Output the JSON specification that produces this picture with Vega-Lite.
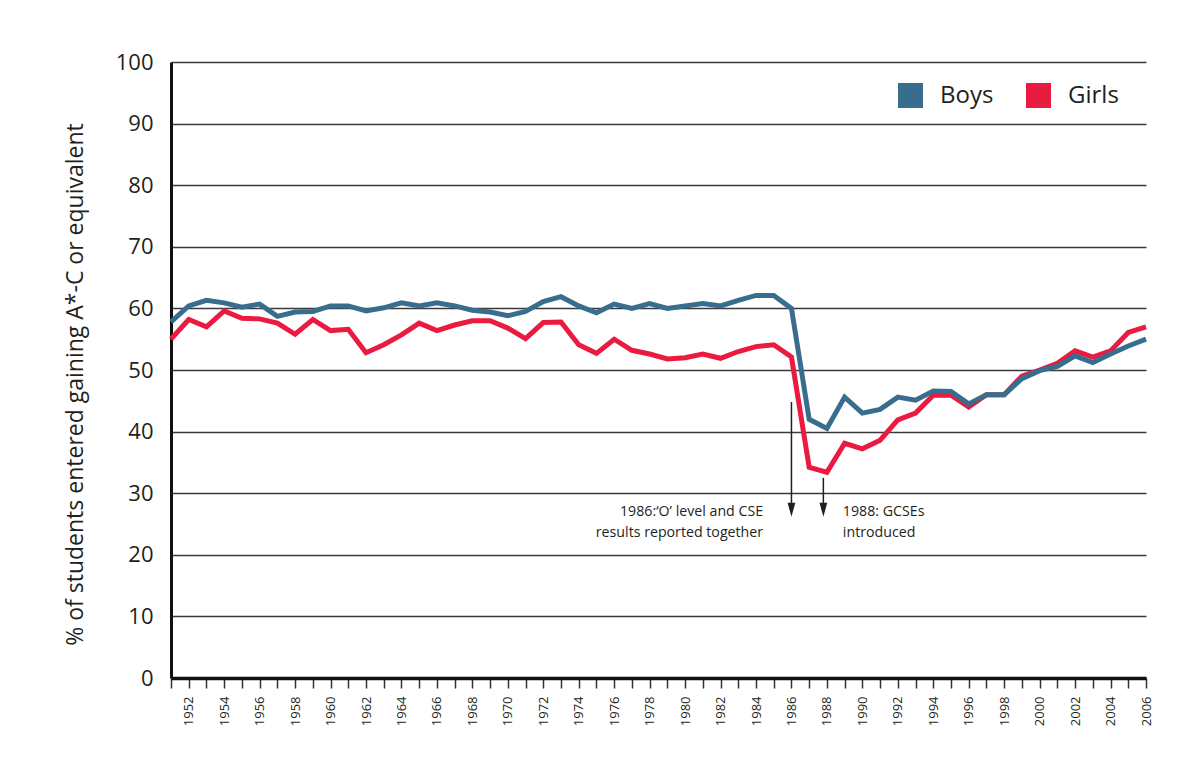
{
  "$schema": "https://vega.github.io/schema/vega-lite/v6.json",
  "width": 975,
  "height": 616,
  "autosize": {"type": "none"},
  "padding": {"left": 171, "top": 62, "right": 52, "bottom": 80},
  "background": "white",
  "config": {
    "font": "Open Sans",
    "view": {"stroke": null}
  },
  "datasets": {
    "series": [
      {"year": 1951, "gender": "Boys", "pct": 57.8}, {"year": 1952, "gender": "Boys", "pct": 60.4}, {"year": 1953, "gender": "Boys", "pct": 61.3}, {"year": 1954, "gender": "Boys", "pct": 60.9}, {"year": 1955, "gender": "Boys", "pct": 60.2}, {"year": 1956, "gender": "Boys", "pct": 60.7}, {"year": 1957, "gender": "Boys", "pct": 58.7}, {"year": 1958, "gender": "Boys", "pct": 59.4}, {"year": 1959, "gender": "Boys", "pct": 59.5}, {"year": 1960, "gender": "Boys", "pct": 60.4},
      {"year": 1961, "gender": "Boys", "pct": 60.4}, {"year": 1962, "gender": "Boys", "pct": 59.6}, {"year": 1963, "gender": "Boys", "pct": 60.1}, {"year": 1964, "gender": "Boys", "pct": 60.9}, {"year": 1965, "gender": "Boys", "pct": 60.4}, {"year": 1966, "gender": "Boys", "pct": 60.9}, {"year": 1967, "gender": "Boys", "pct": 60.4}, {"year": 1968, "gender": "Boys", "pct": 59.7}, {"year": 1969, "gender": "Boys", "pct": 59.4}, {"year": 1970, "gender": "Boys", "pct": 58.8},
      {"year": 1971, "gender": "Boys", "pct": 59.5}, {"year": 1972, "gender": "Boys", "pct": 61.1}, {"year": 1973, "gender": "Boys", "pct": 61.9}, {"year": 1974, "gender": "Boys", "pct": 60.4}, {"year": 1975, "gender": "Boys", "pct": 59.3}, {"year": 1976, "gender": "Boys", "pct": 60.7}, {"year": 1977, "gender": "Boys", "pct": 60.0}, {"year": 1978, "gender": "Boys", "pct": 60.8}, {"year": 1979, "gender": "Boys", "pct": 60.0}, {"year": 1980, "gender": "Boys", "pct": 60.4},
      {"year": 1981, "gender": "Boys", "pct": 60.8}, {"year": 1982, "gender": "Boys", "pct": 60.4}, {"year": 1983, "gender": "Boys", "pct": 61.3}, {"year": 1984, "gender": "Boys", "pct": 62.1}, {"year": 1985, "gender": "Boys", "pct": 62.1}, {"year": 1986, "gender": "Boys", "pct": 60.0}, {"year": 1987, "gender": "Boys", "pct": 42.0}, {"year": 1988, "gender": "Boys", "pct": 40.5}, {"year": 1989, "gender": "Boys", "pct": 45.6}, {"year": 1990, "gender": "Boys", "pct": 43.0},
      {"year": 1991, "gender": "Boys", "pct": 43.6}, {"year": 1992, "gender": "Boys", "pct": 45.6}, {"year": 1993, "gender": "Boys", "pct": 45.1}, {"year": 1994, "gender": "Boys", "pct": 46.6}, {"year": 1995, "gender": "Boys", "pct": 46.5}, {"year": 1996, "gender": "Boys", "pct": 44.5}, {"year": 1997, "gender": "Boys", "pct": 46.0}, {"year": 1998, "gender": "Boys", "pct": 46.0}, {"year": 1999, "gender": "Boys", "pct": 48.6}, {"year": 2000, "gender": "Boys", "pct": 49.9},
      {"year": 2001, "gender": "Boys", "pct": 50.6}, {"year": 2002, "gender": "Boys", "pct": 52.3}, {"year": 2003, "gender": "Boys", "pct": 51.2}, {"year": 2004, "gender": "Boys", "pct": 52.6}, {"year": 2005, "gender": "Boys", "pct": 53.9}, {"year": 2006, "gender": "Boys", "pct": 55.0},
      {"year": 1951, "gender": "Girls", "pct": 55.0}, {"year": 1952, "gender": "Girls", "pct": 58.2}, {"year": 1953, "gender": "Girls", "pct": 57.0}, {"year": 1954, "gender": "Girls", "pct": 59.6}, {"year": 1955, "gender": "Girls", "pct": 58.4}, {"year": 1956, "gender": "Girls", "pct": 58.3}, {"year": 1957, "gender": "Girls", "pct": 57.6}, {"year": 1958, "gender": "Girls", "pct": 55.8}, {"year": 1959, "gender": "Girls", "pct": 58.2}, {"year": 1960, "gender": "Girls", "pct": 56.4},
      {"year": 1961, "gender": "Girls", "pct": 56.6}, {"year": 1962, "gender": "Girls", "pct": 52.8}, {"year": 1963, "gender": "Girls", "pct": 54.1}, {"year": 1964, "gender": "Girls", "pct": 55.7}, {"year": 1965, "gender": "Girls", "pct": 57.6}, {"year": 1966, "gender": "Girls", "pct": 56.4}, {"year": 1967, "gender": "Girls", "pct": 57.3}, {"year": 1968, "gender": "Girls", "pct": 58.0}, {"year": 1969, "gender": "Girls", "pct": 58.0}, {"year": 1970, "gender": "Girls", "pct": 56.8},
      {"year": 1971, "gender": "Girls", "pct": 55.1}, {"year": 1972, "gender": "Girls", "pct": 57.7}, {"year": 1973, "gender": "Girls", "pct": 57.8}, {"year": 1974, "gender": "Girls", "pct": 54.1}, {"year": 1975, "gender": "Girls", "pct": 52.7}, {"year": 1976, "gender": "Girls", "pct": 55.0}, {"year": 1977, "gender": "Girls", "pct": 53.2}, {"year": 1978, "gender": "Girls", "pct": 52.6}, {"year": 1979, "gender": "Girls", "pct": 51.8}, {"year": 1980, "gender": "Girls", "pct": 52.0},
      {"year": 1981, "gender": "Girls", "pct": 52.6}, {"year": 1982, "gender": "Girls", "pct": 51.9}, {"year": 1983, "gender": "Girls", "pct": 53.0}, {"year": 1984, "gender": "Girls", "pct": 53.8}, {"year": 1985, "gender": "Girls", "pct": 54.1}, {"year": 1986, "gender": "Girls", "pct": 52.1}, {"year": 1987, "gender": "Girls", "pct": 34.2}, {"year": 1988, "gender": "Girls", "pct": 33.4}, {"year": 1989, "gender": "Girls", "pct": 38.1}, {"year": 1990, "gender": "Girls", "pct": 37.2},
      {"year": 1991, "gender": "Girls", "pct": 38.6}, {"year": 1992, "gender": "Girls", "pct": 41.9}, {"year": 1993, "gender": "Girls", "pct": 43.0}, {"year": 1994, "gender": "Girls", "pct": 45.9}, {"year": 1995, "gender": "Girls", "pct": 45.9}, {"year": 1996, "gender": "Girls", "pct": 44.0}, {"year": 1997, "gender": "Girls", "pct": 46.0}, {"year": 1998, "gender": "Girls", "pct": 46.0}, {"year": 1999, "gender": "Girls", "pct": 49.0}, {"year": 2000, "gender": "Girls", "pct": 50.0},
      {"year": 2001, "gender": "Girls", "pct": 51.1}, {"year": 2002, "gender": "Girls", "pct": 53.1}, {"year": 2003, "gender": "Girls", "pct": 52.1}, {"year": 2004, "gender": "Girls", "pct": 53.1}, {"year": 2005, "gender": "Girls", "pct": 56.1}, {"year": 2006, "gender": "Girls", "pct": 57.0}
    ],
    "arrows": [
      {"year": 1986, "pct": 44.8, "pct2": 28.0, "head": 27.3},
      {"year": 1987.8, "pct": 32.5, "pct2": 28.0, "head": 27.3}
    ],
    "notesLeft": [
      {"year": 1984.4, "pct": 27.0, "label": "1986:‘O’ level and CSE"},
      {"year": 1984.4, "pct": 23.5, "label": "results reported together"}
    ],
    "notesRight": [
      {"year": 1988.9, "pct": 27.0, "label": "1988: GCSEs"},
      {"year": 1988.9, "pct": 23.5, "label": "introduced"}
    ]
  },
  "encoding": {
    "x": {
      "field": "year",
      "type": "quantitative",
      "scale": {"domain": [1951, 2006], "nice": false, "zero": false},
      "axis": {
        "title": null,
        "values": [1951, 1952, 1953, 1954, 1955, 1956, 1957, 1958, 1959, 1960, 1961, 1962, 1963, 1964, 1965, 1966, 1967, 1968, 1969, 1970, 1971, 1972, 1973, 1974, 1975, 1976, 1977, 1978, 1979, 1980, 1981, 1982, 1983, 1984, 1985, 1986, 1987, 1988, 1989, 1990, 1991, 1992, 1993, 1994, 1995, 1996, 1997, 1998, 1999, 2000, 2001, 2002, 2003, 2004, 2005, 2006],
        "format": "d",
        "labelExpr": "datum.value % 2 == 0 ? datum.label : ''",
        "labelAngle": -90,
        "labelAlign": "right",
        "labelBaseline": "middle",
        "labelFontSize": 13,
        "labelColor": "#231f20",
        "labelPadding": 8,
        "labelOverlap": false,
        "labelFlush": false,
        "tickSize": 10,
        "tickWidth": 1.5,
        "tickColor": "#333333",
        "domainColor": "#111111",
        "domainWidth": 3.5,
        "grid": false
      }
    },
    "y": {
      "field": "pct",
      "type": "quantitative",
      "scale": {"domain": [0, 100], "nice": false},
      "axis": {
        "title": "% of students entered gaining A*-C or equivalent",
        "titleFontSize": 23,
        "titleFontWeight": "normal",
        "titleColor": "#231f20",
        "titleX": -96,
        "titleY": 322,
        "titleAngle": -90,
        "titleAlign": "center",
        "titleBaseline": "middle",
        "values": [0, 10, 20, 30, 40, 50, 60, 70, 80, 90, 100],
        "labelFontSize": 22,
        "labelColor": "#231f20",
        "labelPadding": 18,
        "ticks": false,
        "tickSize": 0,
        "domainColor": "#111111",
        "domainWidth": 3,
        "grid": true,
        "gridColor": "#3a3a3a",
        "gridWidth": 1.3
      }
    }
  },
  "layer": [
    {
      "data": {"name": "series"},
      "transform": [{"filter": "datum.gender == 'Girls'"}],
      "mark": {"type": "line", "strokeWidth": 5, "strokeJoin": "miter"},
      "encoding": {
        "color": {
          "field": "gender",
          "type": "nominal",
          "scale": {"domain": ["Boys", "Girls"], "range": ["#386d8e", "#ea1a40"]},
          "legend": {
            "title": null,
            "orient": "none",
            "legendX": 727,
            "legendY": 21,
            "direction": "horizontal",
            "symbolType": "square",
            "symbolSize": 625,
            "symbolStrokeWidth": 0,
            "labelFontSize": 24,
            "labelColor": "#231f20",
            "labelOffset": 17,
            "columnPadding": 32,
            "encode": {
              "symbols": {"update": {"fill": {"scale": "color", "field": "value"}, "strokeWidth": {"value": 0}, "opacity": {"value": 1}}}
            }
          }
        }
      }
    },
    {
      "data": {"name": "series"},
      "transform": [{"filter": "datum.gender == 'Boys'"}],
      "mark": {"type": "line", "strokeWidth": 5, "strokeJoin": "miter"},
      "encoding": {
        "color": {"field": "gender", "type": "nominal"}
      }
    },
    {
      "data": {"name": "arrows"},
      "mark": {"type": "rule", "color": "#231f20", "strokeWidth": 1.5},
      "encoding": {
        "y2": {"field": "pct2"}
      }
    },
    {
      "data": {"name": "arrows"},
      "mark": {"type": "point", "shape": "M-0.55,-1L0.55,-1L0,1Z", "filled": true, "color": "#231f20", "size": 196, "opacity": 1},
      "encoding": {
        "y": {"field": "head", "type": "quantitative"}
      }
    },
    {
      "data": {"name": "notesLeft"},
      "mark": {"type": "text", "align": "right", "baseline": "middle", "fontSize": 14.2, "color": "#231f20"},
      "encoding": {
        "text": {"field": "label"}
      }
    },
    {
      "data": {"name": "notesRight"},
      "mark": {"type": "text", "align": "left", "baseline": "middle", "fontSize": 14.2, "color": "#231f20"},
      "encoding": {
        "text": {"field": "label"}
      }
    }
  ]
}
